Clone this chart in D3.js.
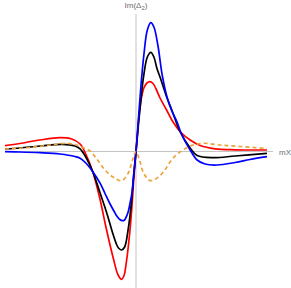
<!DOCTYPE html>
<html>
<head>
<meta charset="utf-8">
<script src="https://cdn.jsdelivr.net/npm/d3@7"></script>
<style>
  html, body { margin: 0; padding: 0; background: #fff; }
  svg { display: block; }
</style>
</head>
<body>
<div id="chart"></div>
<script>
const width = 291;
const height = 288;

// curve samples: [mX, Im(Δ2)]
const redCurve = [
  [-3.00, 0.058], [-2.66, 0.080], [-2.20, 0.115], [-1.74, 0.138], [-1.47, 0.125],
  [-1.28, 0.075], [-1.15, -0.025], [-0.99, -0.202], [-0.82, -0.485], [-0.69, -0.752],
  [-0.52, -1.068], [-0.41, -1.235], [-0.33, -1.278], [-0.27, -1.235], [-0.23, -1.135],
  [-0.16, -0.885], [-0.09, -0.535], [-0.05, -0.265], [0, 0], [0.034, 0.180],
  [0.076, 0.385], [0.13, 0.550], [0.18, 0.635], [0.25, 0.685], [0.32, 0.698],
  [0.39, 0.680], [0.46, 0.625], [0.55, 0.535], [0.70, 0.415], [0.82, 0.315],
  [1.03, 0.190], [1.24, 0.115], [1.47, 0.060], [1.81, 0.027], [2.27, 0.017], [3.00, 0.015],
];

const blackCurve = [
  [-3.00, 0.025], [-2.66, 0.035], [-2.20, 0.055], [-1.69, 0.072], [-1.40, 0.055],
  [-1.28, 0.027], [-1.15, -0.055], [-0.99, -0.202], [-0.82, -0.418], [-0.67, -0.615],
  [-0.52, -0.835], [-0.44, -0.935], [-0.39, -0.970], [-0.33, -0.985], [-0.26, -0.955],
  [-0.18, -0.780], [-0.11, -0.530], [-0.06, -0.280], [0, 0], [0.057, 0.275],
  [0.115, 0.530], [0.18, 0.770], [0.26, 0.945], [0.34, 0.992], [0.41, 0.945],
  [0.48, 0.830], [0.55, 0.745], [0.70, 0.548], [0.82, 0.415], [1.01, 0.198],
  [1.24, 0.035], [1.40, -0.040], [1.76, -0.062], [2.27, -0.045], [3.00, -0.018],
];

const blueCurve = [
  [-3.00, -0.002], [-2.66, -0.005], [-2.20, -0.012], [-1.74, -0.025], [-1.40, -0.050],
  [-1.28, -0.068], [-1.15, -0.115], [-0.99, -0.202], [-0.82, -0.318], [-0.71, -0.420],
  [-0.60, -0.520], [-0.50, -0.600], [-0.44, -0.645], [-0.37, -0.680], [-0.31, -0.692],
  [-0.27, -0.688], [-0.23, -0.660], [-0.18, -0.605], [-0.14, -0.525], [-0.09, -0.405],
  [-0.05, -0.215], [0, 0], [0.057, 0.335], [0.115, 0.665], [0.18, 0.965],
  [0.26, 1.215], [0.34, 1.288], [0.41, 1.245], [0.50, 1.065], [0.60, 0.765],
  [0.71, 0.545], [0.82, 0.405], [0.94, 0.295], [1.05, 0.165], [1.24, 0.015],
  [1.40, -0.085], [1.58, -0.125], [1.85, -0.135], [2.27, -0.110], [2.61, -0.080], [3.00, -0.052],
];

const orangeCurve = [
  [-3.00, 0.025], [-2.43, 0.040], [-1.97, 0.065], [-1.59, 0.082], [-1.40, 0.070],
  [-1.21, 0.038], [-1.05, 0.005], [-0.90, -0.075], [-0.71, -0.185], [-0.52, -0.258],
  [-0.33, -0.292], [-0.18, -0.218], [-0.07, -0.070], [0, 0], [0.07, -0.070],
  [0.18, -0.220], [0.33, -0.292], [0.50, -0.260], [0.66, -0.185], [0.78, -0.105],
  [0.92, -0.035], [1.08, 0.015], [1.24, 0.055], [1.53, 0.082], [1.92, 0.065],
  [2.38, 0.050], [3.00, 0.030],
];

const xLabel = "mX";
const yLabel = ["Im(Δ", "2", ")"];

const x = d3.scaleLinear().domain([-3, 3]).range([5, 267]);
const y = d3.scaleLinear().domain([-1.365, 1.375]).range([288, 14]);

const svg = d3.select("#chart")
  .append("svg")
  .attr("width", width)
  .attr("height", height)
  .attr("font-family", "'Liberation Sans', Arial, sans-serif");

// axes through the origin
svg.append("line")
  .attr("x1", x(-3)).attr("x2", x(3) + 6)
  .attr("y1", y(0)).attr("y2", y(0))
  .attr("stroke", "#c4c4c4").attr("stroke-width", 1);

svg.append("line")
  .attr("x1", x(0)).attr("x2", x(0))
  .attr("y1", y(1.375)).attr("y2", y(-1.365))
  .attr("stroke", "#c4c4c4").attr("stroke-width", 1);

svg.append("text")
  .attr("x", x(3) + 12)
  .attr("y", y(0) + 3)
  .attr("fill", "#6e6e6e")
  .attr("font-size", 8)
  .text(xLabel);

const yl = svg.append("text")
  .attr("x", x(0))
  .attr("y", 8)
  .attr("text-anchor", "middle")
  .attr("fill", "#6e6e6e")
  .attr("font-size", 8);
yl.append("tspan").text(yLabel[0]);
yl.append("tspan").attr("dy", 2).attr("font-size", 6).text(yLabel[1]);
yl.append("tspan").attr("dy", -2).text(yLabel[2]);

const line = d3.line()
  .x((d) => x(d[0]))
  .y((d) => y(d[1]))
  .curve(d3.curveCatmullRom.alpha(0.5));

const series = [
  { data: redCurve, color: "#ff0000", dash: null },
  { data: blackCurve, color: "#000000", dash: null },
  { data: blueCurve, color: "#0000ff", dash: null },
  { data: orangeCurve, color: "#eba43c", dash: "4,3" },
];

series.forEach((s) => {
  svg.append("path")
    .datum(s.data)
    .attr("fill", "none")
    .attr("stroke", s.color)
    .attr("stroke-width", 1.7)
    .attr("stroke-dasharray", s.dash)
    .attr("d", line);
});
</script>
</body>
</html>
